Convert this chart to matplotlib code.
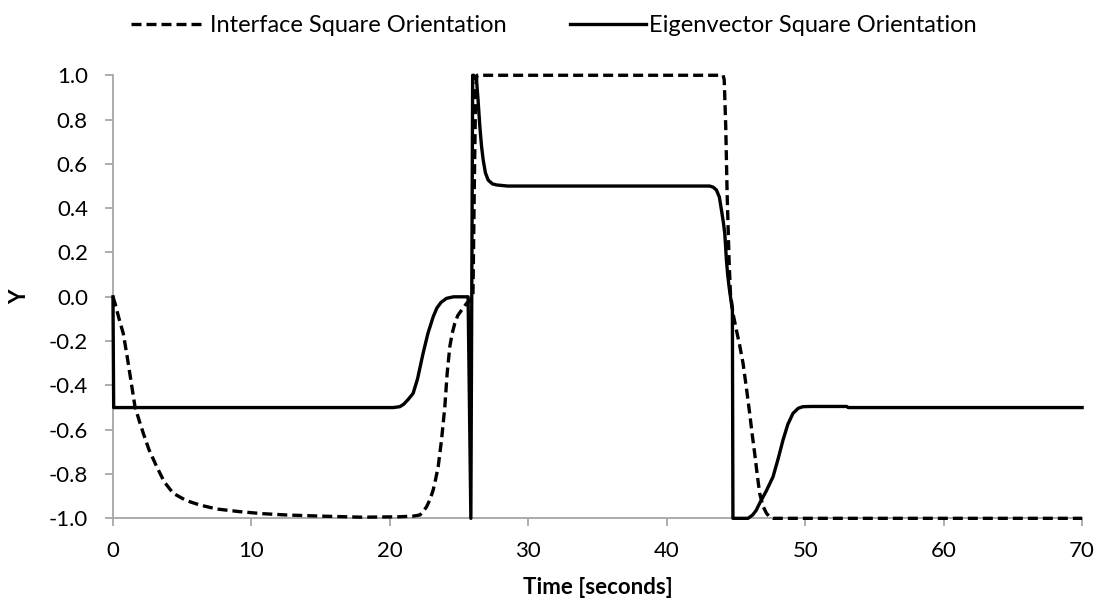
import matplotlib
matplotlib.use("Agg")
import matplotlib.pyplot as plt

# ----- data -----
iface_t = [0.0, 0.15, 0.4, 0.74, 1.0, 1.3, 1.59, 1.9, 2.19, 2.6, 3.16, 3.7,
           4.35, 5.3, 6.28, 7.5, 9.17, 10.8, 12.54, 15.0, 18.0, 20.7, 21.7,
           22.17, 22.4, 22.65, 22.9, 23.13, 23.3, 23.49, 23.73, 23.97, 24.14,
           24.33, 24.5, 24.69, 24.9, 25.18, 25.54, 25.8, 26.0, 26.1, 26.2,
           26.3, 35.0, 44.07, 44.15, 44.26, 44.36, 44.5, 44.6, 44.8, 45.03,
           45.27, 45.51, 45.75, 45.99, 46.17, 46.35, 46.53, 46.71, 46.95, 47.2,
           47.45, 47.68, 55.0, 70.0]
iface_y = [0.0, -0.03, -0.09, -0.165, -0.26, -0.38, -0.496, -0.56, -0.616,
           -0.69, -0.767, -0.835, -0.887, -0.92, -0.94, -0.958, -0.97, -0.979,
           -0.985, -0.99, -0.995, -0.993, -0.99, -0.985, -0.97, -0.948, -0.915,
           -0.872, -0.825, -0.767, -0.647, -0.496, -0.345, -0.225, -0.165,
           -0.12, -0.085, -0.06, -0.03, -0.015, 0.0, 0.5, 0.95, 1.0, 1.0, 1.0,
           0.98, 0.77, 0.467, 0.166, 0.016, -0.08, -0.15, -0.22, -0.30, -0.41,
           -0.526, -0.62, -0.707, -0.8, -0.887, -0.945, -0.977, -0.995, -1.0,
           -1.0, -1.0]

eigen_t = [0.0, 0.05, 10.0, 20.24, 20.72, 21.0, 21.3, 21.68, 22.0, 22.4, 22.75,
           23.13, 23.4, 23.7, 24.09, 24.6, 25.65, 25.85, 25.98, 26.06, 26.26,
           26.38, 26.5, 26.62, 26.74, 26.9, 27.1, 27.4, 27.7, 28.5, 35.0, 43.1,
           43.35, 43.59, 43.8, 43.95, 44.08, 44.19, 44.31, 44.4, 44.5, 44.67,
           44.74, 44.78, 45.87, 46.2, 46.45, 46.71, 47.2, 47.68, 48.05, 48.4,
           48.75, 49.12, 49.5, 49.84, 50.5, 53.0, 53.1, 70.0]
eigen_y = [0.0, -0.5, -0.5, -0.5, -0.496, -0.485, -0.465, -0.436, -0.37, -0.255,
           -0.165, -0.09, -0.05, -0.025, -0.007, 0.0, 0.0, -1.0, 1.0, 1.0, 0.979,
           0.88, 0.768, 0.68, 0.618, 0.56, 0.527, 0.51, 0.505, 0.5, 0.5, 0.5,
           0.495, 0.482, 0.45, 0.392, 0.34, 0.287, 0.166, 0.1, 0.046, -0.03,
           -0.06, -1.0, -1.0, -0.985, -0.965, -0.932, -0.875, -0.812, -0.73,
           -0.646, -0.575, -0.526, -0.503, -0.496, -0.495, -0.495, -0.5, -0.5]

x_ticks = [0, 10, 20, 30, 40, 50, 60, 70]
y_ticks = [-1.0, -0.8, -0.6, -0.4, -0.2, 0.0, 0.2, 0.4, 0.6, 0.8, 1.0]

plt.rcParams["font.family"] = ["Lato", "DejaVu Sans"]

fig = plt.figure(figsize=(11.12, 6.15), dpi=100)
ax = fig.add_axes([0.1016, 0.1572, 0.8715, 0.7204])

ax.plot(iface_t, iface_y, color="black", lw=2.4, linestyle=(0, (3.0, 1.5)),
        label="Interface Square Orientation", clip_on=False, zorder=3)
ax.plot(eigen_t, eigen_y, color="black", lw=2.4,
        label="Eigenvector Square Orientation", clip_on=False, zorder=3)

ax.set_xlim(0, 70)
ax.set_ylim(-1.0, 1.0)
ax.set_xticks(x_ticks)
ax.set_yticks(y_ticks)
ax.set_yticklabels([f"{v:.1f}" for v in y_ticks])

grey = "#a6a6a6"
for side in ["top", "right"]:
    ax.spines[side].set_visible(False)
for side in ["left", "bottom"]:
    ax.spines[side].set_color(grey)
    ax.spines[side].set_linewidth(1.3)
ax.tick_params(axis="both", direction="out", length=6, width=1.3, color=grey,
               labelsize=16, labelcolor="black")
ax.tick_params(axis="y", pad=12)
ax.tick_params(axis="x", pad=10)

ax.set_xlabel("Time [seconds]", fontsize=16, fontweight="bold", labelpad=12)
ax.set_ylabel("Y", fontsize=16, fontweight="bold")
ax.yaxis.set_label_coords(-0.085, 0.5)

fig.legend(loc="upper center", bbox_to_anchor=(0.498, 1.01), ncol=2,
           frameon=False, fontsize=17, handlelength=3.2, handletextpad=0.15,
           columnspacing=2.7)

fig.savefig("out.png", dpi=100)
